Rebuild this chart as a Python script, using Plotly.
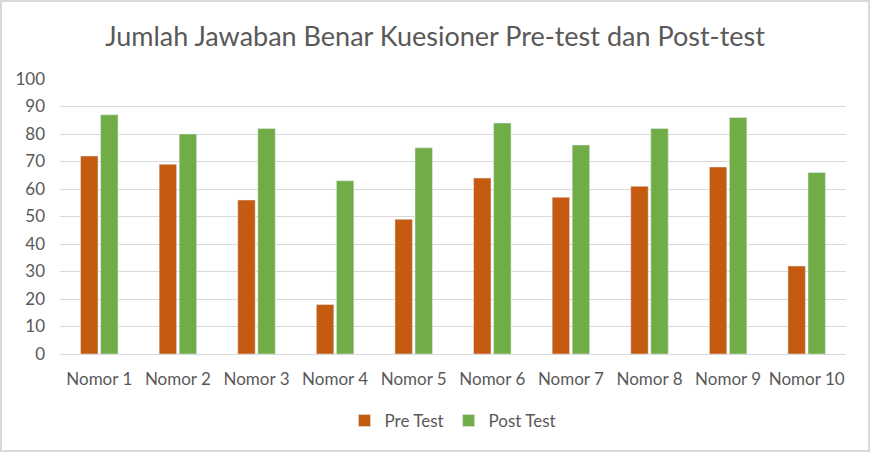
import plotly.graph_objects as go

# data
kategori = ["Nomor 1", "Nomor 2", "Nomor 3", "Nomor 4", "Nomor 5",
            "Nomor 6", "Nomor 7", "Nomor 8", "Nomor 9", "Nomor 10"]
pre_test = [72, 69, 56, 18, 49, 64, 57, 61, 68, 32]
post_test = [87, 80, 82, 63, 75, 84, 76, 82, 86, 66]
y_ticks = [0, 10, 20, 30, 40, 50, 60, 70, 80, 90, 100]

ABU = "#595959"
GRID = "#D9D9D9"

fig = go.Figure()
fig.add_trace(go.Bar(x=kategori, y=pre_test, name="Pre Test", marker_color="#C55A11"))
fig.add_trace(go.Bar(x=kategori, y=post_test, name="Post Test", marker_color="#70AD47"))

# frame around the whole chart, in paper coords (plot area is 786x275 px)
fig.add_shape(type="rect", xref="paper", yref="paper",
              x0=-0.0751, x1=1.0293, y0=-0.3527, y1=1.2836,
              line=dict(color=GRID, width=2), fillcolor="rgba(0,0,0,0)", layer="below")

fig.update_layout(
    width=870, height=452,
    margin=dict(l=60, r=24, t=79, b=98),
    paper_bgcolor="white", plot_bgcolor="white",
    font=dict(family="Lato, Open Sans, sans-serif", color=ABU, size=17),
    title=dict(text="Jumlah Jawaban Benar Kuesioner Pre-test dan Post-test",
               x=0.5, xanchor="center", y=1 - 37 / 452, yanchor="middle",
               font=dict(size=27, color=ABU)),
    barmode="group", bargap=0.49, bargroupgap=0.13,
    showlegend=True,
    legend=dict(orientation="h", x=0.5, xanchor="center", y=-0.2436, yanchor="middle",
                font=dict(size=17, color=ABU), itemwidth=30),
    xaxis=dict(showgrid=False, showline=True, linecolor=GRID, linewidth=1,
               ticks="", ticklabelstandoff=10, tickfont=dict(size=17, color=ABU)),
    yaxis=dict(range=[0, 100], tickvals=y_ticks, showgrid=True, gridcolor=GRID, gridwidth=1,
               zeroline=False, showline=False, ticks="", ticklabelstandoff=14,
               tickfont=dict(size=17, color=ABU)),
)

# drop the default 8px body margin so the chart sits at the window's corner
fig.write_html("out.html", config={"displayModeBar": False},
               post_script="document.body.style.margin='0';document.body.style.overflow='hidden';")
